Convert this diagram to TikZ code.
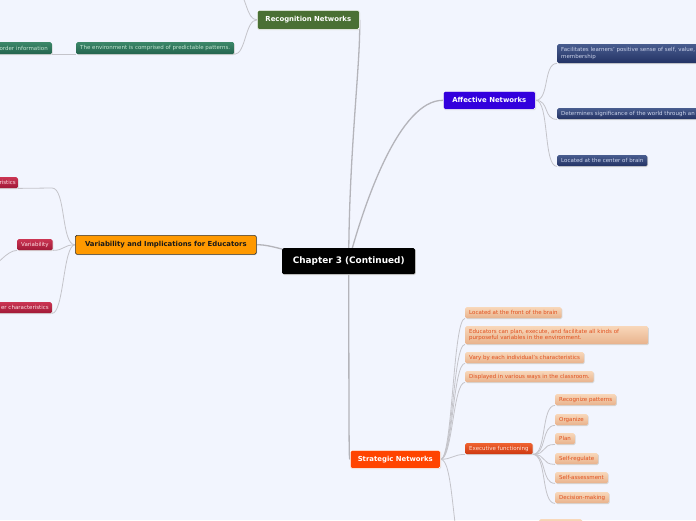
\documentclass[tikz,border=0pt]{standalone}
\usepackage{fontspec}
\setmainfont{DejaVu Sans}
\usetikzlibrary{shadows}
\definecolor{bg}{RGB}{242,245,254}
\definecolor{recgreen}{RGB}{74,112,52}
\definecolor{affblue}{RGB}{51,0,221}
\definecolor{varorange}{RGB}{255,153,0}
\definecolor{strred}{RGB}{255,68,0}
\definecolor{envtop}{RGB}{60,135,105}
\definecolor{envbot}{RGB}{35,100,78}
\definecolor{envtext}{RGB}{195,230,210}
\definecolor{afftop}{RGB}{72,92,142}
\definecolor{affbot}{RGB}{35,50,100}
\definecolor{afftext}{RGB}{205,212,235}
\definecolor{vartop}{RGB}{202,52,82}
\definecolor{varbot}{RGB}{160,25,55}
\definecolor{vartext}{RGB}{255,225,230}
\definecolor{peachtop}{RGB}{248,215,185}
\definecolor{peachbot}{RGB}{232,178,140}
\definecolor{peachtext}{RGB}{225,80,30}
\definecolor{extop}{RGB}{238,98,48}
\definecolor{exbot}{RGB}{205,55,15}
\definecolor{extext}{RGB}{255,228,214}
\definecolor{linkgray}{RGB}{196,196,202}
\definecolor{rootgray}{RGB}{180,180,186}
\pgfdeclarelayer{bgfill}
\pgfdeclarelayer{edges}
\pgfsetlayers{bgfill,edges,main}
\tikzset{
  box/.style={rounded corners=1.5pt, inner sep=0pt, anchor=north west,
    general shadow={fill=black!16, shadow xshift=0.7pt, shadow yshift=-0.9pt}},
  rootbox/.style={box, fill=black, text=white, font=\bfseries\fontsize{8.9}{10}\selectfont,
    minimum width=133pt, minimum height=26pt},
  mainbox/.style={box, draw=white, line width=0.6pt, text=white,
    font=\bfseries\fontsize{6.9}{8}\selectfont, minimum height=19pt},
  leaf/.style={box, font=\fontsize{5.5}{6.5}\selectfont, minimum height=11pt, inner xsep=4pt, align=left},
  envleaf/.style={leaf, top color=envtop, bottom color=envbot, text=envtext},
  affleaf/.style={leaf, top color=afftop, bottom color=affbot, text=afftext},
  varleaf/.style={leaf, top color=vartop, bottom color=varbot, text=vartext},
  peach/.style={leaf, top color=peachtop, bottom color=peachbot, text=peachtext},
  execleaf/.style={leaf, top color=extop, bottom color=exbot, text=extext},
  link/.style={draw=linkgray, line width=0.8pt},
  rootlink/.style={draw=rootgray, line width=1.3pt},
}
\begin{document}
\begin{tikzpicture}[x=1pt,y=-1pt]
\useasboundingbox (0,0) rectangle (696,520);
\begin{pgfonlayer}{bgfill}
\fill[bg] (0,0) rectangle (696,520);
\end{pgfonlayer}

% central
\node[rootbox] (root) at (282,248) {Chapter 3 (Continued)};

% recognition
\node[mainbox, fill=recgreen, minimum width=102pt] (rec) at (257,10) {Recognition Networks};
\node[envleaf, minimum width=158pt, minimum height=12pt] (env) at (76,42) {The environment is comprised of predictable patterns.};
\node[envleaf, anchor=north east, text width=70pt, align=right, minimum height=12pt] (ord) at (52,42) {order information};
\coordinate (offr) at (236,-12);

% affective
\node[mainbox, fill=affblue, minimum width=92pt, minimum height=18pt] (aff) at (443,91) {Affective Networks};
\node[affleaf, text width=150pt, minimum height=19pt] (a1) at (557,44) {Facilitates learners' positive sense of self, value,\\membership};
\node[affleaf, text width=150pt] (a2) at (557,108) {Determines significance of the world through an};
\node[affleaf, minimum width=90pt] (a3) at (557,155) {Located at the center of brain};

% variability
\node[mainbox, fill=varorange, draw=black!80, text=black!90, minimum width=181pt] (var) at (75,235) {Variability and Implications for Educators};
\node[varleaf, anchor=north east, text width=60pt, align=right, inner xsep=2pt] (v1) at (18,177) {ristics};
\node[varleaf, minimum width=35pt] (v2) at (17,239) {Variability};
\node[varleaf, anchor=north east, text width=60pt, align=right, inner xsep=3pt] (v3) at (52,302) {er characteristics};
\coordinate (v1x) at (52,188);
\coordinate (offv) at (-12,272);

% strategic
\node[mainbox, fill=strred, minimum width=90pt, minimum height=18pt] (str) at (350,450) {Strategic Networks};
\node[peach, minimum width=96pt] (s1) at (465,307) {Located at the front of the brain};
\node[peach, text width=175pt, minimum height=18pt] (s2) at (465,326) {Educators can plan, execute, and facilitate all kinds of\\purposeful variables in the environment.};
\node[peach, minimum width=118pt] (s3) at (465,352) {Vary by each individual's characteristics};
\node[peach, minimum width=128pt] (s4) at (465,371) {Displayed in various ways in the classroom.};
\node[execleaf, minimum width=66pt] (ex) at (465,443) {Executive functioning};
\node[peach, minimum width=59pt] (e1) at (555,394) {Recognize patterns};
\node[peach, minimum width=31pt] (e2) at (555,414) {Organize};
\node[peach, minimum width=18pt] (e3) at (555,433) {Plan};
\node[peach, minimum width=42pt] (e4) at (555,453) {Self-regulate};
\node[peach, minimum width=52pt] (e5) at (555,472) {Self-assessment};
\node[peach, minimum width=53pt] (e6) at (555,492) {Decision-making};
\node[peach, minimum width=43pt] (s5) at (539,519) {};
\coordinate (offs) at (462,560);

\begin{pgfonlayer}{edges}
\draw[rootlink] (root.center) .. controls (349,150) and (361,60) .. (rec.east);
\draw[rootlink] (root.center) .. controls (365,200) and (400,100) .. (aff.west);
\draw[rootlink] (root.center) .. controls (300,258) and (275,244) .. (var.east);
\draw[rootlink] (root.center) .. controls (349,459) .. (str.west);

\draw[link] (rec.west) .. controls (245,20) and (246,54) .. (env.south east);
\draw[link] (rec.west) .. controls (246,20) and (247,-5) .. (offr);
\draw[link] (env.south west) -- (ord.south east);

\foreach \c in {a1,a2,a3}
  \draw[link] (aff.east) .. controls +(14,0) and +(-14,0) .. (\c.south west);

\draw[link] (v1.south east) -- (v1x) .. controls +(14,0) and +(-14,0) .. (var.west);
\draw[link] (var.west) .. controls +(-12,0) and +(12,0) .. (v2.south east);
\draw[link] (var.west) .. controls +(-12,0) and +(12,0) .. (v3.south east);
\draw[link] (v2.south west) .. controls +(-10,0) and +(8,-6) .. (offv);

\foreach \c in {s1,s2,s3,s4,ex}
  \draw[link] (str.east) .. controls +(12,0) and +(-12,0) .. (\c.south west);
\draw[link] (str.east) .. controls (453,459) and (452,530) .. (offs);

\foreach \c in {e1,e2,e3,e4,e5,e6}
  \draw[link] (ex.south east) .. controls +(14,0) and +(-14,0) .. (\c.south west);
\end{pgfonlayer}
\end{tikzpicture}
\end{document}
